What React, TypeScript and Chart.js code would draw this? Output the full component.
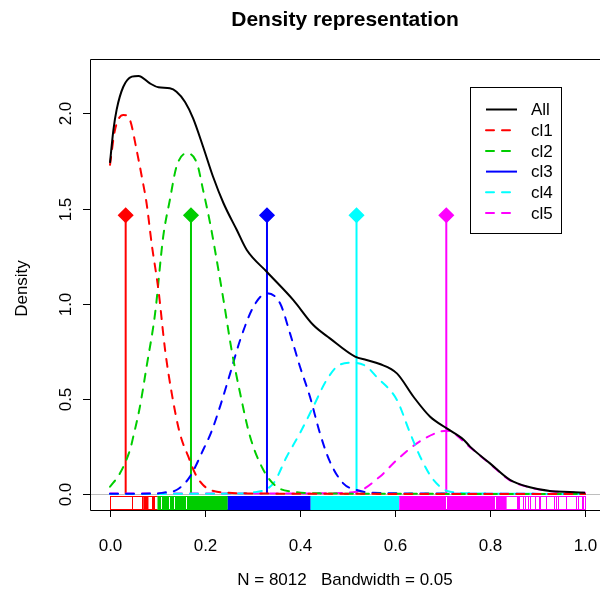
import React, { useEffect, useRef } from "react";
import { Chart, registerables } from "chart.js";

Chart.register(...registerables);

// ---------- data ----------
const allX = [0, 0.007, 0.014, 0.028, 0.046, 0.06, 0.084, 0.102, 0.126, 0.14, 0.158, 0.175, 0.196, 0.217, 0.239, 0.267, 0.288, 0.33, 0.386, 0.428, 0.463, 0.516, 0.54, 0.568, 0.604, 0.639, 0.674, 0.709, 0.744, 0.758, 0.8, 0.842, 0.884, 0.926, 0.968, 1.0];
const allY = [1.74, 1.91, 2.02, 2.14, 2.193, 2.197, 2.158, 2.137, 2.132, 2.114, 2.06, 1.974, 1.825, 1.667, 1.528, 1.387, 1.282, 1.168, 1.019, 0.888, 0.818, 0.722, 0.704, 0.683, 0.634, 0.511, 0.406, 0.345, 0.287, 0.249, 0.161, 0.074, 0.035, 0.016, 0.011, 0.007];

const cl1X = [0, 0.0105, 0.028, 0.042, 0.056, 0.067, 0.077, 0.088, 0.102, 0.116, 0.13, 0.147, 0.165, 0.179, 0.196, 0.225, 0.3, 0.5, 0.7, 1.0];
const cl1Y = [1.73, 1.913, 1.992, 1.965, 1.808, 1.667, 1.528, 1.31, 1.072, 0.757, 0.529, 0.319, 0.196, 0.109, 0.047, 0.012, 0.003, 0.001, 0, 0];

const cl2X = [0, 0.021, 0.042, 0.049, 0.063, 0.077, 0.095, 0.112, 0.126, 0.14, 0.161, 0.183, 0.196, 0.211, 0.221, 0.239, 0.256, 0.274, 0.295, 0.323, 0.351, 0.386, 0.45, 0.6, 1.0];
const cl2Y = [0.038, 0.109, 0.231, 0.301, 0.459, 0.669, 0.95, 1.352, 1.545, 1.72, 1.79, 1.738, 1.597, 1.42, 1.282, 1.019, 0.757, 0.529, 0.301, 0.126, 0.038, 0.012, 0.003, 0.001, 0];

const cl3X = [0, 0.1, 0.112, 0.14, 0.168, 0.196, 0.214, 0.232, 0.253, 0.274, 0.302, 0.33, 0.358, 0.379, 0.4, 0.421, 0.442, 0.463, 0.491, 0.519, 0.55, 0.7, 1.0];
const cl3Y = [0.001, 0.003, 0.007, 0.021, 0.09, 0.231, 0.33, 0.462, 0.634, 0.809, 0.984, 1.055, 1.002, 0.844, 0.669, 0.511, 0.319, 0.17, 0.056, 0.021, 0.007, 0.002, 0];

const cl4X = [0, 0.25, 0.3, 0.344, 0.372, 0.4, 0.428, 0.456, 0.484, 0.512, 0.54, 0.561, 0.604, 0.632, 0.653, 0.681, 0.716, 0.8, 1.0];
const cl4Y = [0, 0.002, 0.008, 0.056, 0.196, 0.32, 0.459, 0.599, 0.68, 0.69, 0.67, 0.616, 0.494, 0.319, 0.196, 0.074, 0.012, 0.002, 0];

const cl5X = [0, 0.3, 0.463, 0.519, 0.568, 0.604, 0.646, 0.688, 0.709, 0.758, 0.8, 0.842, 0.884, 0.926, 0.968, 1.0];
const cl5Y = [0.002, 0.002, 0.004, 0.012, 0.091, 0.179, 0.266, 0.322, 0.333, 0.245, 0.158, 0.072, 0.034, 0.015, 0.01, 0.006];

const clusterNames = ["cl1", "cl2", "cl3", "cl4", "cl5"];
const clusterColors = ["#FF0000", "#00CD00", "#0000FF", "#00FFFF", "#FF00FF"];
const clusterCenters = [0.033, 0.1705, 0.3305, 0.519, 0.708];
const markerHeight = 1.465;

// rug: [start, end] of each cluster's rug, dense parts, single ticks, white gaps
const rugRange = [[0, 0.1], [0.1, 0.248], [0.248, 0.4225], [0.4225, 0.609], [0.609, 1.0]];
const rugDense = [[[0.07, 0.081]], [[0.1, 0.248]], [[0.248, 0.4225]], [[0.4225, 0.609]], [[0.609, 0.835]]];
const rugTicks = [
  [0, 0.046, 0.068, 0.088, 0.091, 0.093],
  [],
  [],
  [],
  [0.857, 0.86, 0.862, 0.87, 0.873, 0.88, 0.884, 0.894, 0.903, 0.906, 0.917, 0.935, 0.938, 0.943, 0.96, 0.982, 0.986, 0.993, 0.996, 0.999],
];
const rugGaps = [[], [0.108, 0.125, 0.135, 0.159], [], [], [0.708, 0.81]];

const xTicks = [0, 0.2, 0.4, 0.6, 0.8, 1.0];
const xTickLabels = ["0.0", "0.2", "0.4", "0.6", "0.8", "1.0"];
const yTicks = [0, 0.5, 1.0, 1.5, 2.0];
const yTickLabels = ["0.0", "0.5", "1.0", "1.5", "2.0"];

const legendLabels = ["All", "cl1", "cl2", "cl3", "cl4", "cl5"];
const legendColors = ["#000000", ...clusterColors];
const legendDashed = [false, true, true, false, true, true];

const titleText = "Density representation";
const xLabelText = "N = 8012   Bandwidth = 0.05";
const yLabelText = "Density";

const FONT = '"Liberation Sans", Arial, sans-serif';
const DASH = [8, 8];

const toPoints = (xs: number[], ys: number[]) => xs.map((x, i) => ({ x, y: ys[i] }));

const rPlugin = {
  id: "rstyle",
  beforeDatasetsDraw(chart: any) {
    const { ctx, chartArea: a, scales } = chart;
    const sx = scales.x;
    const sy = scales.y;
    ctx.save();
    // zero line
    const y0 = Math.round(sy.getPixelForValue(0)) + 0.5;
    ctx.strokeStyle = "#BEBEBE";
    ctx.lineWidth = 1;
    ctx.beginPath();
    ctx.moveTo(a.left, y0);
    ctx.lineTo(a.right, y0);
    ctx.stroke();
    // rug
    const rb = a.bottom;
    const rt = Math.round(a.bottom - 0.03 * (a.bottom - a.top));
    for (let k = 0; k < clusterColors.length; k++) {
      const col = clusterColors[k];
      ctx.fillStyle = col;
      ctx.strokeStyle = col;
      ctx.lineWidth = 1;
      for (const [s, e] of rugDense[k]) {
        const p1 = sx.getPixelForValue(s);
        const p2 = sx.getPixelForValue(e);
        ctx.fillRect(p1, rt, p2 - p1, rb - rt);
      }
      for (const t of rugTicks[k]) {
        const p = Math.round(sx.getPixelForValue(t)) + 0.5;
        ctx.beginPath();
        ctx.moveTo(p, rt);
        ctx.lineTo(p, rb);
        ctx.stroke();
      }
      const [s, e] = rugRange[k];
      const p1 = sx.getPixelForValue(s);
      const p2 = sx.getPixelForValue(e);
      ctx.beginPath();
      ctx.moveTo(p1, rt + 0.5);
      ctx.lineTo(p2, rt + 0.5);
      ctx.moveTo(p1, rb - 0.5);
      ctx.lineTo(p2, rb - 0.5);
      ctx.stroke();
      ctx.strokeStyle = "#FFFFFF";
      for (const g of rugGaps[k]) {
        const p = Math.round(sx.getPixelForValue(g)) + 0.5;
        ctx.beginPath();
        ctx.moveTo(p, rt + 1);
        ctx.lineTo(p, rb - 1);
        ctx.stroke();
      }
    }
    ctx.restore();
  },
  afterDraw(chart: any) {
    const { ctx, chartArea: a, scales } = chart;
    const sx = scales.x;
    const sy = scales.y;
    ctx.save();
    ctx.strokeStyle = "#000000";
    ctx.lineWidth = 1;
    // box (right edge falls outside the picture)
    ctx.beginPath();
    ctx.moveTo(a.right, a.top + 0.5);
    ctx.lineTo(a.left + 0.5, a.top + 0.5);
    ctx.lineTo(a.left + 0.5, a.bottom + 0.5);
    ctx.lineTo(a.right, a.bottom + 0.5);
    ctx.stroke();
    // x ticks
    ctx.fillStyle = "#000000";
    ctx.font = `17px ${FONT}`;
    ctx.textAlign = "center";
    ctx.textBaseline = "alphabetic";
    xTicks.forEach((t, i) => {
      const p = Math.round(sx.getPixelForValue(t)) + 0.5;
      ctx.beginPath();
      ctx.moveTo(p, a.bottom);
      ctx.lineTo(p, a.bottom + 7);
      ctx.stroke();
      ctx.fillText(xTickLabels[i], p, 551);
    });
    // y ticks
    yTicks.forEach((t, i) => {
      const p = Math.round(sy.getPixelForValue(t)) + 0.5;
      ctx.beginPath();
      ctx.moveTo(a.left - 7, p);
      ctx.lineTo(a.left, p);
      ctx.stroke();
      ctx.save();
      ctx.translate(71, p);
      ctx.rotate(-Math.PI / 2);
      ctx.fillText(yTickLabels[i], 0, 0);
      ctx.restore();
    });
    // y label
    ctx.save();
    ctx.translate(27, (a.top + a.bottom) / 2 + 4);
    ctx.rotate(-Math.PI / 2);
    ctx.fillText(yLabelText, 0, 0);
    ctx.restore();
    // x label
    const cx = (a.left + a.right) / 2;
    ctx.fillText(xLabelText, cx, 585);
    // title
    ctx.font = `bold 21px ${FONT}`;
    ctx.fillText(titleText, cx, 26);
    // legend
    const lx = 470.5, ly = 87.5, lw = 91, lh = 146;
    ctx.fillStyle = "#FFFFFF";
    ctx.fillRect(lx, ly, lw, lh);
    ctx.strokeStyle = "#000000";
    ctx.lineWidth = 1;
    ctx.strokeRect(lx, ly, lw, lh);
    ctx.font = `17px ${FONT}`;
    ctx.textAlign = "left";
    ctx.textBaseline = "middle";
    legendLabels.forEach((lab, i) => {
      const yy = 109.5 + i * 20.7;
      ctx.strokeStyle = legendColors[i];
      ctx.lineWidth = 2;
      ctx.lineCap = legendDashed[i] ? "round" : "butt";
      ctx.setLineDash(legendDashed[i] ? DASH : []);
      ctx.beginPath();
      ctx.moveTo(486, yy);
      ctx.lineTo(517, yy);
      ctx.stroke();
      ctx.setLineDash([]);
      ctx.fillStyle = "#000000";
      ctx.fillText(lab, 531, yy + 1);
    });
    ctx.restore();
  },
};

export default function App() {
  const ref = useRef<HTMLCanvasElement | null>(null);
  useEffect(() => {
    if (!ref.current) return;
    const curveXs = [cl1X, cl2X, cl3X, cl4X, cl5X];
    const curveYs = [cl1Y, cl2Y, cl3Y, cl4Y, cl5Y];
    const datasets: any[] = [];
    datasets.push({
      label: "All",
      data: toPoints(allX, allY),
      borderColor: "#000000",
      borderWidth: 2,
      pointRadius: 0,
      cubicInterpolationMode: "monotone",
      fill: false,
    });
    clusterNames.forEach((name, k) => {
      datasets.push({
        label: name,
        data: toPoints(curveXs[k], curveYs[k]),
        borderColor: clusterColors[k],
        borderWidth: 2,
        borderDash: DASH,
        borderCapStyle: "round",
        pointRadius: 0,
        cubicInterpolationMode: "monotone",
        fill: false,
      });
    });
    clusterNames.forEach((name, k) => {
      datasets.push({
        label: name + " center",
        data: [
          { x: clusterCenters[k], y: 0 },
          { x: clusterCenters[k], y: markerHeight },
        ],
        borderColor: clusterColors[k],
        borderWidth: 2,
        pointRadius: [0, 7],
        pointStyle: "rectRot",
        pointBackgroundColor: clusterColors[k],
        pointBorderColor: clusterColors[k],
        pointBorderWidth: 1.5,
        tension: 0,
        fill: false,
      });
    });
    const chart = new Chart(ref.current, {
      type: "line",
      data: { datasets },
      options: {
        animation: false,
        responsive: false,
        devicePixelRatio: 1,
        parsing: false as any,
        layout: { autoPadding: false, padding: { left: 90, top: 59, right: 0, bottom: 89 } },
        plugins: {
          legend: { display: false },
          tooltip: { enabled: false },
          title: { display: false },
        },
        scales: {
          x: { type: "linear", min: -0.0421, max: 1.0316, display: false },
          y: { type: "linear", min: -0.0841, max: 2.2859, display: false },
        },
        events: [],
      },
      plugins: [rPlugin],
    });
    return () => chart.destroy();
  }, []);
  return (
    <div style={{ position: "absolute", left: 0, top: 0, width: 600, height: 599, background: "#FFFFFF" }}>
      <canvas ref={ref} width={600} height={599} style={{ display: "block" }} />
    </div>
  );
}
